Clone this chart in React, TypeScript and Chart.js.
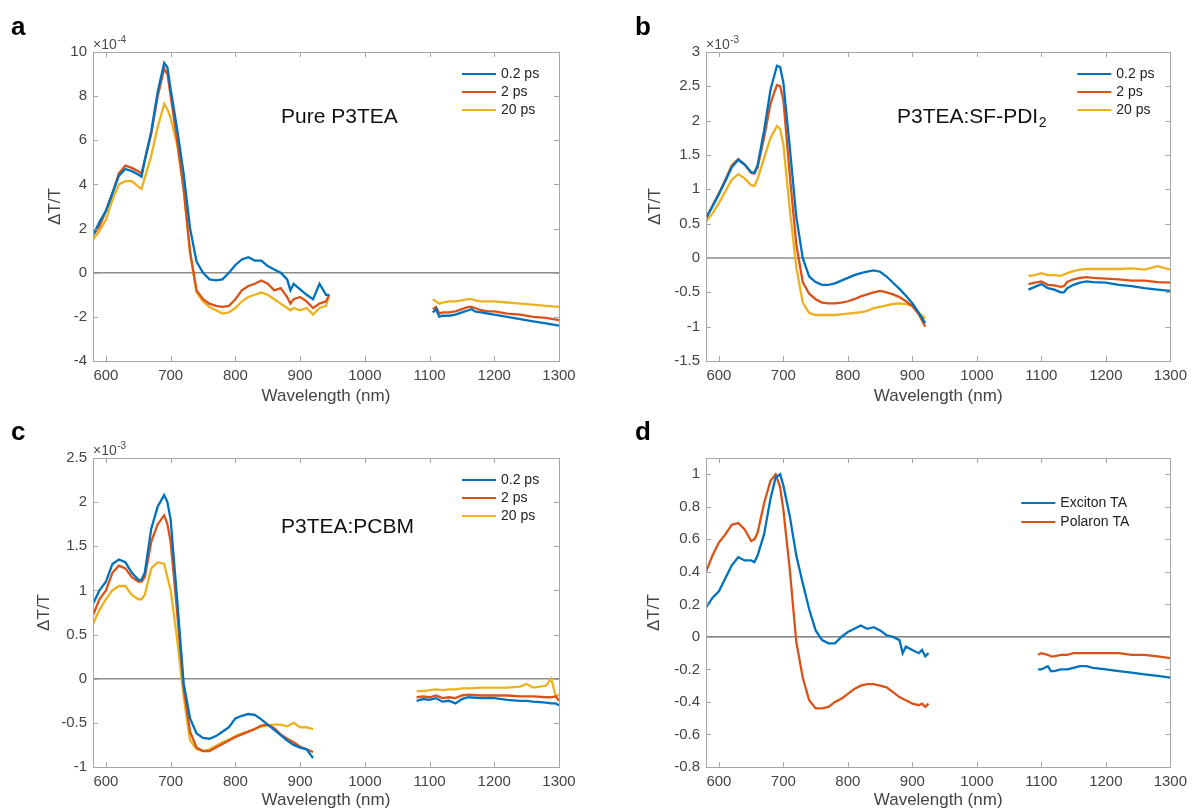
import React, { useEffect, useRef } from "react";
import { Chart, registerables } from "chart.js";

Chart.register(...registerables);

// ---------- shared ----------
const BLUE = "#0072BD";
const ORANGE = "#D95319";
const YELLOW = "#EDB120";
const FONT = '"Liberation Sans", Arial, Helvetica, sans-serif';

const xTicks = [600, 700, 800, 900, 1000, 1100, 1200, 1300];
const xMin = 580;
const xMax = 1300;

// ---------- panel a (x10^-4) ----------
const aVisWl = [580, 590, 600, 610, 620, 630, 640, 650, 655, 660, 670, 680, 690, 695, 700, 710, 720, 730, 740, 750, 760, 770, 780, 790, 800, 810, 820, 830, 840, 850, 860, 870, 880, 885, 890, 900, 910, 920, 930, 940, 945];
const aBlueVis = [1.7, 2.3, 2.8, 3.6, 4.4, 4.7, 4.6, 4.45, 4.35, 5.1, 6.4, 8.2, 9.5, 9.3, 8.3, 6.5, 4.5, 2.0, 0.5, 0.0, -0.3, -0.35, -0.3, 0.0, 0.35, 0.6, 0.7, 0.55, 0.55, 0.3, 0.15, 0.0, -0.3, -0.8, -0.5, -0.75, -1.0, -1.2, -0.5, -1.0, -1.0];
const aRedVis = [1.7, 2.1, 2.8, 3.6, 4.5, 4.85, 4.75, 4.6, 4.5, 5.1, 6.3, 8.0, 9.25, 9.0, 8.0, 6.0, 3.8, 0.95, -0.8, -1.2, -1.4, -1.5, -1.55, -1.5, -1.2, -0.8, -0.6, -0.5, -0.35, -0.5, -0.8, -0.7, -1.1, -1.4, -1.2, -1.1, -1.3, -1.6, -1.4, -1.3, -1.0];
const aYellowVis = [1.5, 1.9, 2.4, 3.3, 4.0, 4.15, 4.15, 3.9, 3.8, 4.3, 5.3, 6.6, 7.65, 7.4, 7.0, 5.8, 3.8, 0.9, -0.9, -1.3, -1.55, -1.7, -1.85, -1.8, -1.6, -1.3, -1.1, -1.0, -0.9, -1.0, -1.2, -1.4, -1.6, -1.7, -1.6, -1.7, -1.6, -1.9, -1.6, -1.5, -1.0];
const aNirWl = [1105, 1110, 1115, 1120, 1130, 1140, 1150, 1160, 1165, 1170, 1180, 1190, 1200, 1220, 1240, 1260, 1280, 1300];
const aBlueNir = [-1.8, -1.65, -2.0, -1.95, -1.95, -1.9, -1.8, -1.7, -1.65, -1.75, -1.8, -1.85, -1.9, -2.0, -2.1, -2.2, -2.3, -2.4];
const aRedNir = [-1.65, -1.55, -1.85, -1.8, -1.8, -1.75, -1.65, -1.55, -1.55, -1.6, -1.7, -1.75, -1.75, -1.85, -1.9, -2.0, -2.05, -2.15];
const aYellowNir = [-1.2, -1.3, -1.4, -1.35, -1.3, -1.3, -1.25, -1.2, -1.2, -1.25, -1.3, -1.3, -1.3, -1.35, -1.4, -1.45, -1.5, -1.55];
const aYTicks = [-4, -2, 0, 2, 4, 6, 8, 10];

// ---------- panel b (x10^-3) ----------
const bVisWl = [580, 590, 600, 610, 620, 630, 640, 650, 655, 660, 670, 680, 690, 695, 700, 710, 720, 730, 740, 750, 760, 770, 780, 790, 800, 810, 820, 830, 840, 850, 860, 870, 880, 890, 900, 910, 920];
const bBlueVis = [0.58, 0.75, 0.93, 1.12, 1.32, 1.43, 1.36, 1.25, 1.24, 1.35, 1.85, 2.45, 2.8, 2.78, 2.55, 1.6, 0.6, 0.0, -0.27, -0.35, -0.39, -0.39, -0.37, -0.33, -0.29, -0.25, -0.22, -0.2, -0.18, -0.2, -0.27, -0.36, -0.45, -0.55, -0.66, -0.8, -0.95];
const bRedVis = [0.58, 0.76, 0.94, 1.14, 1.35, 1.44, 1.36, 1.24, 1.23, 1.32, 1.75, 2.25, 2.52, 2.5, 2.3, 1.2, 0.2, -0.35, -0.52, -0.6, -0.65, -0.66, -0.66, -0.65, -0.63, -0.6, -0.56, -0.53, -0.5, -0.48, -0.5, -0.53, -0.57, -0.63, -0.7, -0.82, -1.0];
const bYellowVis = [0.53, 0.65, 0.8, 0.97, 1.14, 1.22, 1.16, 1.06, 1.05, 1.15, 1.45, 1.75, 1.92, 1.88, 1.65, 0.7, -0.13, -0.65, -0.8, -0.83, -0.83, -0.83, -0.83, -0.82, -0.81, -0.8, -0.79, -0.77, -0.73, -0.71, -0.69, -0.67, -0.66, -0.67, -0.7, -0.8, -0.88];
const bNirWl = [1080, 1090, 1100, 1110, 1120, 1130, 1135, 1140, 1150, 1160, 1170, 1180, 1200, 1220, 1240, 1260, 1280, 1300];
const bBlueNir = [-0.46, -0.42, -0.38, -0.44, -0.46, -0.5, -0.5, -0.44, -0.39, -0.36, -0.34, -0.35, -0.36, -0.39, -0.41, -0.44, -0.46, -0.48];
const bRedNir = [-0.38, -0.36, -0.34, -0.39, -0.4, -0.42, -0.41, -0.35, -0.31, -0.29, -0.28, -0.29, -0.3, -0.31, -0.33, -0.33, -0.35, -0.36];
const bYellowNir = [-0.26, -0.25, -0.22, -0.25, -0.25, -0.26, -0.24, -0.22, -0.19, -0.17, -0.16, -0.16, -0.16, -0.16, -0.15, -0.17, -0.12, -0.17];
const bYTicks = [-1.5, -1, -0.5, 0, 0.5, 1, 1.5, 2, 2.5, 3];

// ---------- panel c (x10^-3) ----------
const cVisWl = [580, 590, 600, 610, 620, 630, 640, 650, 655, 660, 670, 680, 690, 695, 700, 710, 720, 730, 740, 750, 760, 770, 780, 790, 800, 810, 820, 830, 840, 850, 860, 870, 880, 890, 900, 910, 920];
const cBlueVis = [0.85, 1.0, 1.1, 1.3, 1.35, 1.32, 1.2, 1.12, 1.12, 1.2, 1.7, 1.95, 2.08, 2.0, 1.8, 0.9, -0.05, -0.45, -0.62, -0.67, -0.68, -0.65, -0.6, -0.55, -0.45, -0.42, -0.4, -0.41, -0.46, -0.52, -0.58, -0.64, -0.7, -0.75, -0.78, -0.8, -0.9];
const cRedVis = [0.72, 0.9, 1.0, 1.2, 1.28, 1.25, 1.15, 1.1, 1.1, 1.15, 1.55, 1.75, 1.85, 1.75, 1.55, 0.75, -0.1, -0.6, -0.78, -0.82, -0.82, -0.78, -0.74, -0.7, -0.66, -0.63, -0.6, -0.57, -0.53, -0.52, -0.56, -0.63, -0.68, -0.72, -0.77, -0.8, -0.83];
const cYellowVis = [0.62, 0.78, 0.9, 1.0, 1.05, 1.05, 0.95, 0.9, 0.9, 0.95, 1.25, 1.32, 1.3, 1.15, 1.0, 0.45, -0.2, -0.7, -0.8, -0.82, -0.8, -0.76, -0.72, -0.69, -0.65, -0.62, -0.6, -0.57, -0.54, -0.53, -0.52, -0.52, -0.54, -0.5, -0.55, -0.55, -0.57];
const cNirWl = [1080, 1090, 1100, 1110, 1120, 1130, 1140, 1150, 1160, 1180, 1200, 1220, 1240, 1250, 1260, 1280, 1288, 1295, 1300];
const cBlueNir = [-0.25, -0.23, -0.24, -0.22, -0.26, -0.25, -0.28, -0.23, -0.21, -0.22, -0.22, -0.24, -0.25, -0.25, -0.26, -0.27, -0.28, -0.28, -0.3];
const cRedNir = [-0.21, -0.2, -0.21, -0.19, -0.22, -0.21, -0.22, -0.19, -0.18, -0.19, -0.19, -0.19, -0.2, -0.2, -0.2, -0.21, -0.21, -0.2, -0.25];
const cYellowNir = [-0.14, -0.14, -0.13, -0.12, -0.13, -0.12, -0.12, -0.11, -0.11, -0.1, -0.1, -0.1, -0.09, -0.06, -0.1, -0.08, 0.0, -0.2, -0.18];
const cYTicks = [-1, -0.5, 0, 0.5, 1, 1.5, 2, 2.5];

// ---------- panel d (normalised) ----------
const dVisWl = [580, 590, 600, 610, 620, 630, 640, 650, 655, 660, 670, 680, 688, 695, 700, 710, 720, 730, 740, 750, 760, 770, 780, 790, 800, 810, 820, 830, 840, 850, 860, 870, 880, 885, 890, 900, 910, 915, 920, 925];
const dExcitonVis = [0.18, 0.24, 0.28, 0.36, 0.44, 0.49, 0.47, 0.47, 0.46, 0.5, 0.63, 0.85, 0.98, 1.0, 0.93, 0.74, 0.5, 0.33, 0.17, 0.04, -0.02, -0.04, -0.04, 0.0, 0.03, 0.05, 0.07, 0.05, 0.06, 0.04, 0.01, 0.0, -0.02, -0.1, -0.06, -0.08, -0.1, -0.08, -0.12, -0.1];
const dPolaronVis = [0.4, 0.5, 0.58, 0.63, 0.69, 0.7, 0.66, 0.59, 0.6, 0.64, 0.82, 0.96, 1.0, 0.92, 0.78, 0.41, -0.03, -0.25, -0.39, -0.44, -0.44, -0.43, -0.4, -0.38, -0.35, -0.32, -0.3, -0.29, -0.29, -0.3, -0.31, -0.34, -0.37, -0.38, -0.39, -0.41, -0.42, -0.41, -0.43, -0.41];
const dNirWl = [1095, 1100, 1110, 1115, 1120, 1130, 1140, 1150, 1160, 1170, 1180, 1200, 1220, 1240, 1260, 1280, 1300];
const dExcitonNir = [-0.2, -0.2, -0.18, -0.21, -0.21, -0.2, -0.2, -0.19, -0.18, -0.18, -0.19, -0.2, -0.21, -0.22, -0.23, -0.24, -0.25];
const dPolaronNir = [-0.11, -0.1, -0.11, -0.12, -0.12, -0.11, -0.11, -0.1, -0.1, -0.1, -0.1, -0.1, -0.1, -0.11, -0.11, -0.12, -0.13];
const dYTicks = [-0.8, -0.6, -0.4, -0.2, 0, 0.2, 0.4, 0.6, 0.8, 1];

// ---------- helpers ----------
type Series = {
  label: string;
  color: string;
  visWl: number[];
  vis: number[];
  nirWl: number[];
  nir: number[];
};

function toPoints(s: Series) {
  const gapX = (s.visWl[s.visWl.length - 1] + s.nirWl[0]) / 2;
  return [
    ...s.visWl.map((x, i) => ({ x, y: s.vis[i] })),
    { x: gapX, y: null as any },
    ...s.nirWl.map((x, i) => ({ x, y: s.nir[i] })),
  ];
}

type PanelCfg = {
  letter: string;
  left: number;
  top: number;
  width: number;
  height: number;
  area: { left: number; top: number; right: number; bottom: number };
  series: Series[];
  yTicks: number[];
  yMin: number;
  yMax: number;
  exponent?: string;
  note?: { text: string; sub?: string; dx: number; dy: number };
  legend: { dx: number; dy: number; gap: number };
  yTitlePad: number;
  xTitlePad: number;
  letterPos: { x: number; y: number };
  zeroColor: string;
  zeroWidth: number;
};

const decorPlugin = {
  id: "panelDecor",
  beforeDatasetsDraw(chart: any, _args: any, opts: any) {
    const { ctx, chartArea } = chart;
    const y0 = chart.scales.y.getPixelForValue(0);
    ctx.save();
    ctx.strokeStyle = opts.zeroColor;
    ctx.lineWidth = opts.zeroWidth;
    ctx.beginPath();
    ctx.moveTo(chartArea.left, y0);
    ctx.lineTo(chartArea.right, y0);
    ctx.stroke();
    ctx.restore();
  },
  afterDraw(chart: any, _args: any, opts: any) {
    const { ctx, chartArea } = chart;
    const { left, top, right, bottom } = chartArea;
    const xs = chart.scales.x;
    const ys = chart.scales.y;
    ctx.save();
    // box
    ctx.strokeStyle = "#a6a6a6";
    ctx.lineWidth = 1;
    ctx.strokeRect(Math.round(left) + 0.5, Math.round(top) + 0.5, Math.round(right - left), Math.round(bottom - top));
    // inward ticks
    const tl = 5;
    ctx.beginPath();
    xs.ticks.forEach((t: any) => {
      const px = Math.round(xs.getPixelForValue(t.value)) + 0.5;
      ctx.moveTo(px, bottom);
      ctx.lineTo(px, bottom - tl);
      ctx.moveTo(px, top);
      ctx.lineTo(px, top + tl);
    });
    ys.ticks.forEach((t: any) => {
      const py = Math.round(ys.getPixelForValue(t.value)) + 0.5;
      ctx.moveTo(left, py);
      ctx.lineTo(left + tl, py);
      ctx.moveTo(right, py);
      ctx.lineTo(right - tl, py);
    });
    ctx.stroke();

    // panel letter
    ctx.fillStyle = "#000";
    ctx.font = `bold 26px ${FONT}`;
    ctx.textBaseline = "alphabetic";
    ctx.textAlign = "left";
    ctx.fillText(opts.letter, opts.letterPos.x, opts.letterPos.y);

    // exponent
    if (opts.exponent) {
      ctx.fillStyle = "#4a4a4a";
      ctx.font = `14px ${FONT}`;
      const base = "\u00d710";
      ctx.fillText(base, left, top - 3);
      const w = ctx.measureText(base).width;
      ctx.font = `10px ${FONT}`;
      ctx.fillText(opts.exponent, left + w + 0.5, top - 9);
    }

    // note
    if (opts.note) {
      ctx.fillStyle = "#111";
      ctx.font = `21px ${FONT}`;
      ctx.textBaseline = "middle";
      const nx = left + opts.note.dx;
      const ny = top + opts.note.dy;
      ctx.fillText(opts.note.text, nx, ny);
      if (opts.note.sub) {
        const w = ctx.measureText(opts.note.text).width;
        ctx.font = `14px ${FONT}`;
        ctx.fillText(opts.note.sub, nx + w + 0.5, ny + 6);
      }
    }

    // legend
    ctx.font = `14px ${FONT}`;
    ctx.textBaseline = "middle";
    const lx = right - opts.legend.dx;
    chart.data.datasets.forEach((ds: any, i: number) => {
      const ly = top + opts.legend.dy + i * opts.legend.gap;
      ctx.strokeStyle = ds.borderColor;
      ctx.lineWidth = 2;
      ctx.beginPath();
      ctx.moveTo(lx, ly);
      ctx.lineTo(lx + 34, ly);
      ctx.stroke();
      ctx.fillStyle = "#222";
      ctx.fillText(ds.label, lx + 39, ly);
    });
    ctx.restore();
  },
};

function Panel({ cfg }: { cfg: PanelCfg }) {
  const ref = useRef<HTMLCanvasElement | null>(null);
  useEffect(() => {
    if (!ref.current) return;
    const { area, width, height } = cfg;
    const tickFont = { family: FONT, size: 15 };
    const titleFont = { family: FONT, size: 17 };
    const chart = new Chart(ref.current, {
      type: "line",
      data: {
        datasets: cfg.series.map((s) => ({
          label: s.label,
          data: toPoints(s),
          borderColor: s.color,
          backgroundColor: s.color,
          borderWidth: 2.3,
          pointRadius: 0,
          tension: 0,
          spanGaps: false,
          fill: false,
        })),
      },
      options: {
        animation: false,
        responsive: false,
        maintainAspectRatio: false,
        events: [],
        layout: { padding: { left: 0, top: area.top, right: width - area.right, bottom: 0 } },
        plugins: {
          legend: { display: false },
          tooltip: { enabled: false },
          title: { display: false },
          panelDecor: {
            letter: cfg.letter,
            letterPos: cfg.letterPos,
            exponent: cfg.exponent,
            note: cfg.note,
            legend: cfg.legend,
            zeroColor: cfg.zeroColor,
            zeroWidth: cfg.zeroWidth,
          },
        } as any,
        scales: {
          x: {
            type: "linear",
            min: xMin,
            max: xMax,
            grid: { display: false, drawTicks: false },
            border: { display: false },
            ticks: {
              padding: 6,
              font: tickFont,
              color: "#444",
              autoSkip: false,
              maxRotation: 0,
              callback: (v: any) => String(v),
            },
            afterBuildTicks: (s: any) => {
              s.ticks = xTicks.map((v) => ({ value: v }));
            },
            afterFit: (s: any) => {
              s.height = height - area.bottom;
            },
            title: {
              display: true,
              text: "Wavelength (nm)",
              font: titleFont,
              color: "#444",
              padding: { top: 0, bottom: cfg.xTitlePad },
            },
          },
          y: {
            type: "linear",
            min: cfg.yMin,
            max: cfg.yMax,
            grid: { display: false, drawTicks: false },
            border: { display: false },
            ticks: {
              padding: 6,
              font: tickFont,
              color: "#444",
              autoSkip: false,
              callback: (v: any) => String(v),
            },
            afterBuildTicks: (s: any) => {
              s.ticks = cfg.yTicks.map((v) => ({ value: v }));
            },
            afterFit: (s: any) => {
              s.width = area.left;
            },
            title: {
              display: true,
              text: "\u0394T/T",
              font: titleFont,
              color: "#444",
              padding: { top: cfg.yTitlePad, bottom: 0 },
            },
          },
        } as any,
      },
      plugins: [decorPlugin as any],
    });
    return () => chart.destroy();
  }, [cfg]);
  return (
    <canvas
      ref={ref}
      width={cfg.width}
      height={cfg.height}
      style={{ position: "absolute", left: cfg.left, top: cfg.top, width: cfg.width, height: cfg.height }}
    />
  );
}

const threeSeries = (
  visWl: number[],
  nirWl: number[],
  b: number[],
  bn: number[],
  r: number[],
  rn: number[],
  y: number[],
  yn: number[]
): Series[] => [
  { label: "0.2 ps", color: BLUE, visWl, vis: b, nirWl, nir: bn },
  { label: "2 ps", color: ORANGE, visWl, vis: r, nirWl, nir: rn },
  { label: "20 ps", color: YELLOW, visWl, vis: y, nirWl, nir: yn },
];

const panels: PanelCfg[] = [
  {
    letter: "a",
    left: 0,
    top: 0,
    width: 596,
    height: 410,
    area: { left: 93, top: 52, right: 559, bottom: 361 },
    series: threeSeries(aVisWl, aNirWl, aBlueVis, aBlueNir, aRedVis, aRedNir, aYellowVis, aYellowNir),
    yTicks: aYTicks,
    yMin: -4,
    yMax: 10,
    exponent: "-4",
    note: { text: "Pure P3TEA", dx: 188, dy: 65 },
    legend: { dx: 97, dy: 22, gap: 18 },
    yTitlePad: 45,
    xTitlePad: 3,
    letterPos: { x: 11, y: 35 },
    zeroColor: "#8c8c8c",
    zeroWidth: 1.5,
  },
  {
    letter: "b",
    left: 596,
    top: 0,
    width: 597,
    height: 410,
    area: { left: 110, top: 52, right: 576, bottom: 361 },
    series: threeSeries(bVisWl, bNirWl, bBlueVis, bBlueNir, bRedVis, bRedNir, bYellowVis, bYellowNir),
    yTicks: bYTicks,
    yMin: -1.5,
    yMax: 3,
    exponent: "-3",
    note: { text: "P3TEA:SF-PDI", sub: "2", dx: 191, dy: 65 },
    legend: { dx: 93, dy: 22, gap: 18 },
    yTitlePad: 49,
    xTitlePad: 3,
    letterPos: { x: 39, y: 35 },
    zeroColor: "#8c8c8c",
    zeroWidth: 1.5,
  },
  {
    letter: "c",
    left: 0,
    top: 410,
    width: 596,
    height: 402,
    area: { left: 93, top: 48, right: 559, bottom: 357 },
    series: threeSeries(cVisWl, cNirWl, cBlueVis, cBlueNir, cRedVis, cRedNir, cYellowVis, cYellowNir),
    yTicks: cYTicks,
    yMin: -1,
    yMax: 2.5,
    exponent: "-3",
    note: { text: "P3TEA:PCBM", dx: 188, dy: 69 },
    legend: { dx: 97, dy: 22, gap: 18 },
    yTitlePad: 34,
    xTitlePad: 1,
    letterPos: { x: 11, y: 30 },
    zeroColor: "#8c8c8c",
    zeroWidth: 1.5,
  },
  {
    letter: "d",
    left: 596,
    top: 410,
    width: 597,
    height: 402,
    area: { left: 110, top: 48, right: 576, bottom: 357 },
    series: [
      { label: "Exciton TA", color: BLUE, visWl: dVisWl, vis: dExcitonVis, nirWl: dNirWl, nir: dExcitonNir },
      { label: "Polaron TA", color: ORANGE, visWl: dVisWl, vis: dPolaronVis, nirWl: dNirWl, nir: dPolaronNir },
    ],
    yTicks: dYTicks,
    yMin: -0.8,
    yMax: 1.1,
    legend: { dx: 149, dy: 45, gap: 19 },
    yTitlePad: 48,
    xTitlePad: 1,
    letterPos: { x: 39, y: 30 },
    zeroColor: "#3a3a3a",
    zeroWidth: 1,
  },
];

export default function App() {
  return (
    <div
      style={{
        position: "fixed",
        left: 0,
        top: 0,
        width: 1193,
        height: 812,
        background: "#fff",
        overflow: "hidden",
      }}
    >
      {panels.map((p) => (
        <Panel key={p.letter} cfg={p} />
      ))}
    </div>
  );
}
